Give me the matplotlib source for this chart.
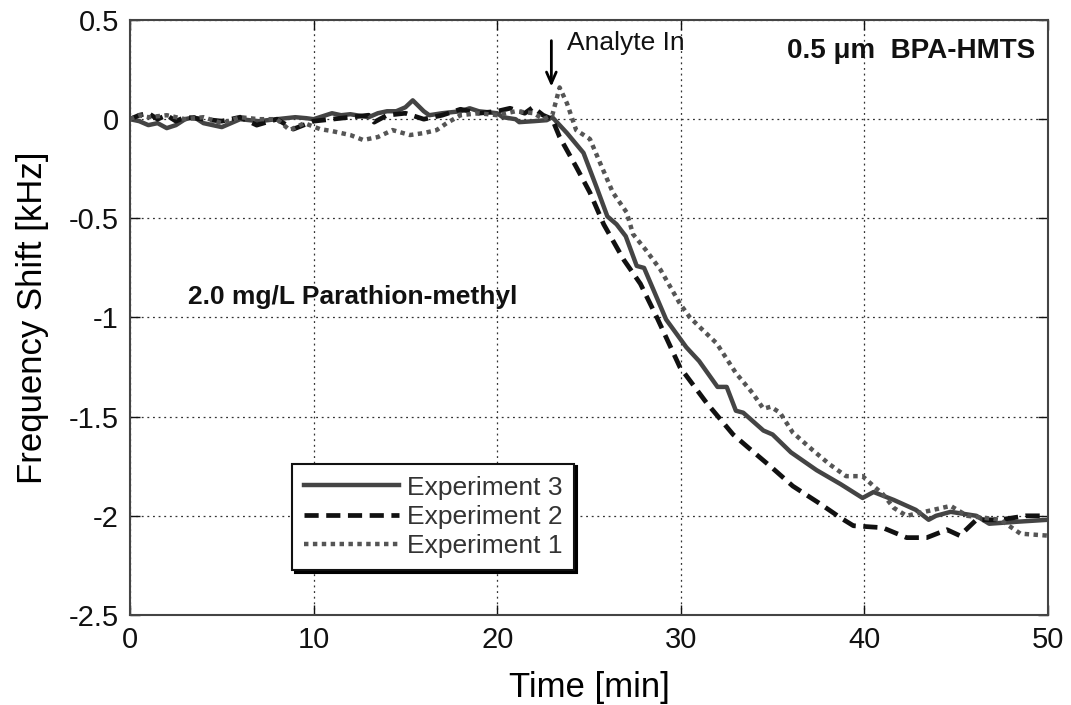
import matplotlib.pyplot as plt

plt.rcParams['font.family'] = ['Liberation Sans', 'DejaVu Sans']

# Experiment 3 (solid)
t3 = [0, 0.5, 1, 1.5, 2, 2.5, 3, 3.5, 4, 5, 5.5, 6, 7, 8, 9, 9.6, 10, 11, 11.5, 12,
      13, 13.5, 14, 14.5, 15, 15.4, 16, 16.3, 17, 18, 18.5, 19, 20, 20.3, 21, 21.2,
      22, 22.7, 23, 23.8, 24.7, 25.4, 26, 26.5, 27, 27.6, 28, 29.2, 30.3, 31, 32,
      32.5, 33, 33.4, 34.5, 35, 36, 37.4, 38.7, 39.9, 40.5, 41.6, 42.8, 43.5, 43.9,
      44.7, 46.1, 46.8, 48.3, 50]
v3 = [0, -0.01, -0.03, -0.02, -0.045, -0.03, 0.0, 0.01, -0.02, -0.04, -0.02, 0.0,
      -0.01, 0.0, 0.01, 0.005, 0.0, 0.03, 0.02, 0.025, 0.01, 0.03, 0.04, 0.04, 0.06,
      0.095, 0.04, 0.02, 0.03, 0.04, 0.055, 0.04, 0.03, 0.01, 0.0, -0.015, -0.01,
      -0.005, 0.01, -0.07, -0.17, -0.34, -0.49, -0.53, -0.59, -0.74, -0.75, -1.01,
      -1.15, -1.22, -1.35, -1.35, -1.47, -1.48, -1.57, -1.59, -1.68, -1.77, -1.84,
      -1.91, -1.88, -1.92, -1.97, -2.02, -2.0, -1.98, -2.0, -2.04, -2.03, -2.02]

# Experiment 2 (dashed)
t2 = [0, 0.5, 1, 1.5, 2, 2.5, 3, 4, 5, 6, 6.9, 8, 8.9, 10, 11, 12, 13, 13.3, 14, 15,
      16, 17, 18, 19, 20, 20.7, 21.5, 21.95, 22.5, 23, 23.4, 24.3, 25.05, 25.8, 26.9,
      27.8, 28.7, 29.95, 31.4, 32.85, 33.6, 35, 36.1, 37.6, 38.7, 39.4, 41, 42.3,
      43.4, 44.5, 45.2, 46.1, 47.4, 48.8, 50]
v2 = [0, 0.02, 0.03, 0.0, 0.02, -0.01, 0.01, 0.0, -0.01, 0.01, -0.03, 0.0, -0.05,
      -0.01, 0.0, 0.01, 0.02, -0.015, 0.02, 0.03, 0.0, 0.02, 0.05, 0.03, 0.04, 0.055,
      0.03, 0.06, 0.02, 0.0, -0.09, -0.24, -0.37, -0.53, -0.71, -0.83, -1.0, -1.25,
      -1.43, -1.59, -1.65, -1.76, -1.85, -1.94, -2.01, -2.05, -2.06, -2.11, -2.11,
      -2.07, -2.1, -2.02, -2.02, -2.0, -2.0]

# Experiment 1 (dotted)
t1 = [0, 0.5, 1, 2, 3, 4, 5, 6, 7, 8, 8.7, 9.5, 10.35, 11, 12, 12.7, 13.5, 14.3,
      15.25, 16, 16.7, 17.25, 18, 19, 20, 21, 22, 22.5, 23, 23.4, 23.8, 24.3, 25.05,
      25.6, 26.3, 27.05, 27.4, 28.1, 28.9, 29.95, 30.5, 31.05, 31.95, 33.0, 33.9,
      34.5, 34.9, 35.4, 36.1, 37.2, 38.1, 39.0, 39.9, 40.5, 41.0, 41.6, 42.3, 43.75,
      44.7, 45.6, 47.4, 48.5, 50]
v1 = [0, 0.02, 0.01, 0.02, 0.0, 0.01, -0.02, 0.01, 0.0, 0.0, -0.055, -0.02, -0.05,
      -0.06, -0.08, -0.105, -0.09, -0.055, -0.08, -0.07, -0.055, -0.02, 0.02, 0.03,
      0.02, 0.04, 0.03, 0.0, 0.02, 0.16, 0.08, -0.055, -0.10, -0.22, -0.37, -0.47,
      -0.58, -0.66, -0.76, -0.93, -1.0, -1.05, -1.13, -1.28, -1.38, -1.46, -1.45,
      -1.48, -1.58, -1.67, -1.74, -1.80, -1.80, -1.85, -1.89, -1.96, -2.0, -1.97,
      -1.95, -2.0, -2.02, -2.09, -2.1]

fig = plt.figure(figsize=(10.71, 7.05), dpi=100)
ax = fig.add_axes([0.1214, 0.1277, 0.8571, 0.8439])

ax.plot(t3, v3, color='#444444', lw=3.2, ls='-', label='Experiment 3')
ax.plot(t2, v2, color='#111111', lw=3.4, ls=(0, (3, 1.6)), label='Experiment 2')
ax.plot(t1, v1, color='#555555', lw=3.2, ls=(0, (1, 1)), label='Experiment 1')

ax.set_xlim(0, 50)
ax.set_ylim(-2.5, 0.5)
ax.set_xticks([0, 10, 20, 30, 40, 50])
ax.set_yticks([-2.5, -2, -1.5, -1, -0.5, 0, 0.5])
ax.set_yticklabels(['-2.5', '-2', '-1.5', '-1', '-0.5', '0', '0.5'])
ax.tick_params(direction='in', length=7, width=1, labelsize=21, colors='#111111',
               top=True, right=True, pad=8)
ax.grid(True, color='#333333', ls=(0, (1.5, 3)), lw=0.9)
for s in ax.spines.values():
    s.set_color('#444444')
    s.set_linewidth(1.5)

ax.set_xlabel('Time [min]', fontsize=25, labelpad=12)
ax.set_ylabel('Frequency Shift [kHz]', fontsize=25, labelpad=14)

# annotations
ax.annotate('', xy=(22.95, 0.15), xytext=(22.95, 0.41),
            arrowprops=dict(arrowstyle='->,head_width=0.35,head_length=0.8',
                            color='black', lw=2))
ax.text(23.8, 0.385, 'Analyte In', fontsize=19, va='center', ha='left', color='#111111')
ax.text(49.3, 0.345, '0.5 \u03bcm  BPA-HMTS', fontsize=20, fontweight='bold',
        va='center', ha='right', color='#111111')
ax.text(3.16, -0.895, '2.0 mg/L Parathion-methyl', fontsize=19, fontweight='bold',
        va='center', ha='left', color='#111111')

leg = ax.legend(loc='lower left', bbox_to_anchor=(0.1765, 0.0756), fontsize=19,
                frameon=True, fancybox=False, shadow={'color': 'black', 'alpha': 1},
                handlelength=3.6, handletextpad=0.3, borderpad=0.45,
                labelspacing=0.2, borderaxespad=0)
leg.get_frame().set_edgecolor('#111111')
leg.get_frame().set_linewidth(1.5)
for txt in leg.get_texts():
    txt.set_color('#333333')

fig.savefig('out.png', dpi=100)
